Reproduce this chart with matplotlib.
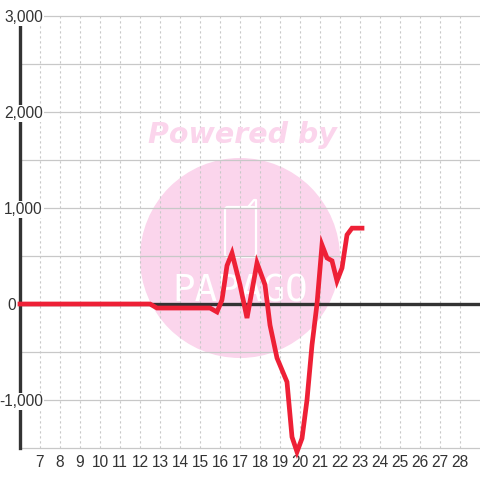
import matplotlib as mpl
mpl.use('Agg')
import matplotlib.pyplot as plt
from matplotlib.lines import Line2D
from matplotlib.patches import Ellipse, FancyBboxPatch

plt.rcParams['font.family'] = ['Liberation Sans', 'DejaVu Sans']

x_ticks = list(range(7, 29))
y_labels = [-1000, 1000, 2000, 3000]
y_grid = [-1500, -1000, -500, 500, 1000, 1500, 2000, 2500, 3000]

x = [6, 12.5, 12.85, 15.5, 15.85, 16.1, 16.35, 16.6, 17, 17.35, 17.85, 18.25, 18.5, 18.85,
     19.35, 19.6, 19.85, 20.1, 20.35, 20.6, 20.85, 21.1, 21.35, 21.6, 21.85, 22.1, 22.35, 22.6, 23.1]
y = [0, 0, -42, -42, -83, 42, 400, 530, 200, -146, 427, 200, -220, -562,
     -812, -1385, -1540, -1400, -1000, -427, 0, 615, 480, 450, 240, 375, 720, 790, 790]

fig = plt.figure(figsize=(4.8, 4.8), dpi=100)
ax = fig.add_axes([20/480, 32/480, 460/480, 432/480])
ax.set_xlim(6, 29)
ax.set_ylim(-1500, 3000)

# watermark, behind the grid
pink = '#fbd5ec'
ax.add_artist(Ellipse((240/480, 222/480), 200/480, 200/480, transform=fig.transFigure,
                      color=pink, lw=0, zorder=1))
fig.text(242/480, 345/480, 'Powered by', color=pink, fontsize=20.5, fontweight='bold',
         fontstyle='italic', family='DejaVu Sans', ha='center', va='center', zorder=0)
ax.add_artist(FancyBboxPatch((225/480, 223/480), 31/480, 50/480, boxstyle='round,pad=0,rounding_size=0.006',
                             transform=fig.transFigure, fc='none', ec='white', lw=1.6, zorder=1.2))
ax.add_artist(Line2D([249/480, 254/480, 256/480, 256/480], [274/480, 280/480, 280/480, 272/480],
                     transform=fig.transFigure, color='white', lw=1.6, zorder=1.2))
ax.text(240/480, 188/480, 'PAPAGO', transform=fig.transFigure, color='white', fontsize=27,
        family='DejaVu Sans Mono', ha='center', va='center', zorder=1.2)

grid_c = '#c8c8c8'
for v in y_grid:
    ax.axhline(v, color=grid_c, lw=0.9, zorder=2, clip_on=False)
for t in x_ticks:
    ax.axvline(t, color=grid_c, lw=0.8, dashes=(2, 2.5), zorder=2)

ax.axhline(0, color='#333333', lw=2.4, zorder=3)
ax.plot(x, y, color='#ee2036', lw=3.4, solid_joinstyle='miter', zorder=5, clip_on=False)

for s in ['top', 'right', 'bottom']:
    ax.spines[s].set_visible(False)
ax.spines['left'].set_color('#333333')
ax.spines['left'].set_linewidth(2.4)
ax.spines['left'].set_bounds(-1500, 2917)
ax.spines['left'].set_zorder(3)

ax.set_xticks(x_ticks)
ax.set_yticks(y_labels)
ax.set_yticklabels([f'{v:,}' for v in y_labels])
ax.tick_params(axis='both', length=0, labelsize=11.2, labelcolor='#333333')
ax.tick_params(axis='y', pad=-16.5)
ax.tick_params(axis='x', pad=5)
ax.yaxis.set_zorder(4)
for lab in ax.get_yticklabels():
    lab.set_bbox(dict(fc='white', ec='none', pad=1))

# the zero label sits left of the axis line
ax.annotate('0', xy=(0, 0), xycoords=('axes fraction', 'data'), xytext=(-3, -1),
            textcoords='offset points', ha='right', va='center', fontsize=11.2,
            color='#333333', annotation_clip=False)

fig.savefig('out.png', dpi=100)
